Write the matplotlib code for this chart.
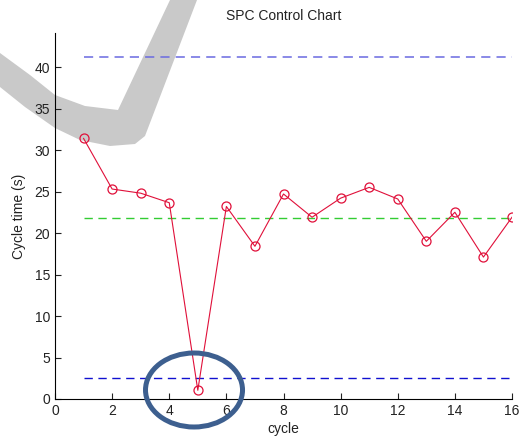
import matplotlib
matplotlib.use("Agg")
import matplotlib.pyplot as plt
from matplotlib.patches import Ellipse, Polygon

# cycle times
cycles = list(range(1, 17))
cycle_time = [31.4, 25.3, 24.8, 23.65, 1.05, 23.2, 18.4, 24.7,
              21.9, 24.2, 25.5, 24.1, 19.0, 22.5, 17.1, 21.9]
ucl = 41.15
center = 21.85
lcl = 2.5

plt.rcParams["font.family"] = ["Liberation Sans", "DejaVu Sans"]

W, H = 519, 437
fig = plt.figure(figsize=(W / 100, H / 100), dpi=100)
fig.patch.set_facecolor("white")

# gray watermark swoosh (pixel coords of the picture)
swoosh_px = [(0, 53), (30, 75), (55, 95), (85, 106), (118, 110), (170, 0), (197, 0),
             (145, 136), (135, 144), (110, 146), (80, 140), (55, 128), (25, 107), (0, 87)]
swoosh = Polygon([(x / W, 1 - y / H) for x, y in swoosh_px], closed=True,
                 transform=fig.transFigure, facecolor="#c9c9c9", edgecolor="none", zorder=-1)
fig.patches.append(swoosh)

ax = fig.add_axes([55 / W, 1 - 399 / H, (512 - 55) / W, (399 - 33) / H])
ax.set_facecolor("none")

ax.plot([1, 16], [ucl, ucl], color="#6a6ae0", lw=1.1, dashes=(6, 4))
ax.plot([1, 16], [center, center], color="#33cc33", lw=1.0, dashes=(6, 4))
ax.plot([1, 16], [lcl, lcl], color="#1010d0", lw=1.0, dashes=(6, 4))
ax.plot(cycles, cycle_time, color="#e0103a", lw=0.8, marker="o", markersize=6.5,
        markerfacecolor="none", markeredgecolor="#e0103a", markeredgewidth=0.9)

ax.set_xlim(0, 16)
ax.set_ylim(0, 44.1)
ax.set_xticks(range(0, 17, 2))
ax.set_yticks(range(0, 41, 5))
ax.spines["top"].set_visible(False)
ax.spines["right"].set_visible(False)
ax.tick_params(direction="in", length=4, labelsize=10, colors="#222222")

ax.set_title("SPC Control Chart", fontsize=10, color="#222222", y=1.0, pad=9)
ax.set_xlabel("cycle", fontsize=10, color="#222222", labelpad=3)
ax.set_ylabel("Cycle time (s)", fontsize=10, color="#222222", labelpad=6)

# highlight the out-of-control point
ring = Ellipse(((194 - 55) / 28.56, (399 - 390) / 8.3), 97 / 28.56, 74 / 8.3,
               facecolor="none", edgecolor="#3d5f8f", lw=3.6, clip_on=False, zorder=5)
ax.add_patch(ring)

fig.savefig("out.png", dpi=100)
